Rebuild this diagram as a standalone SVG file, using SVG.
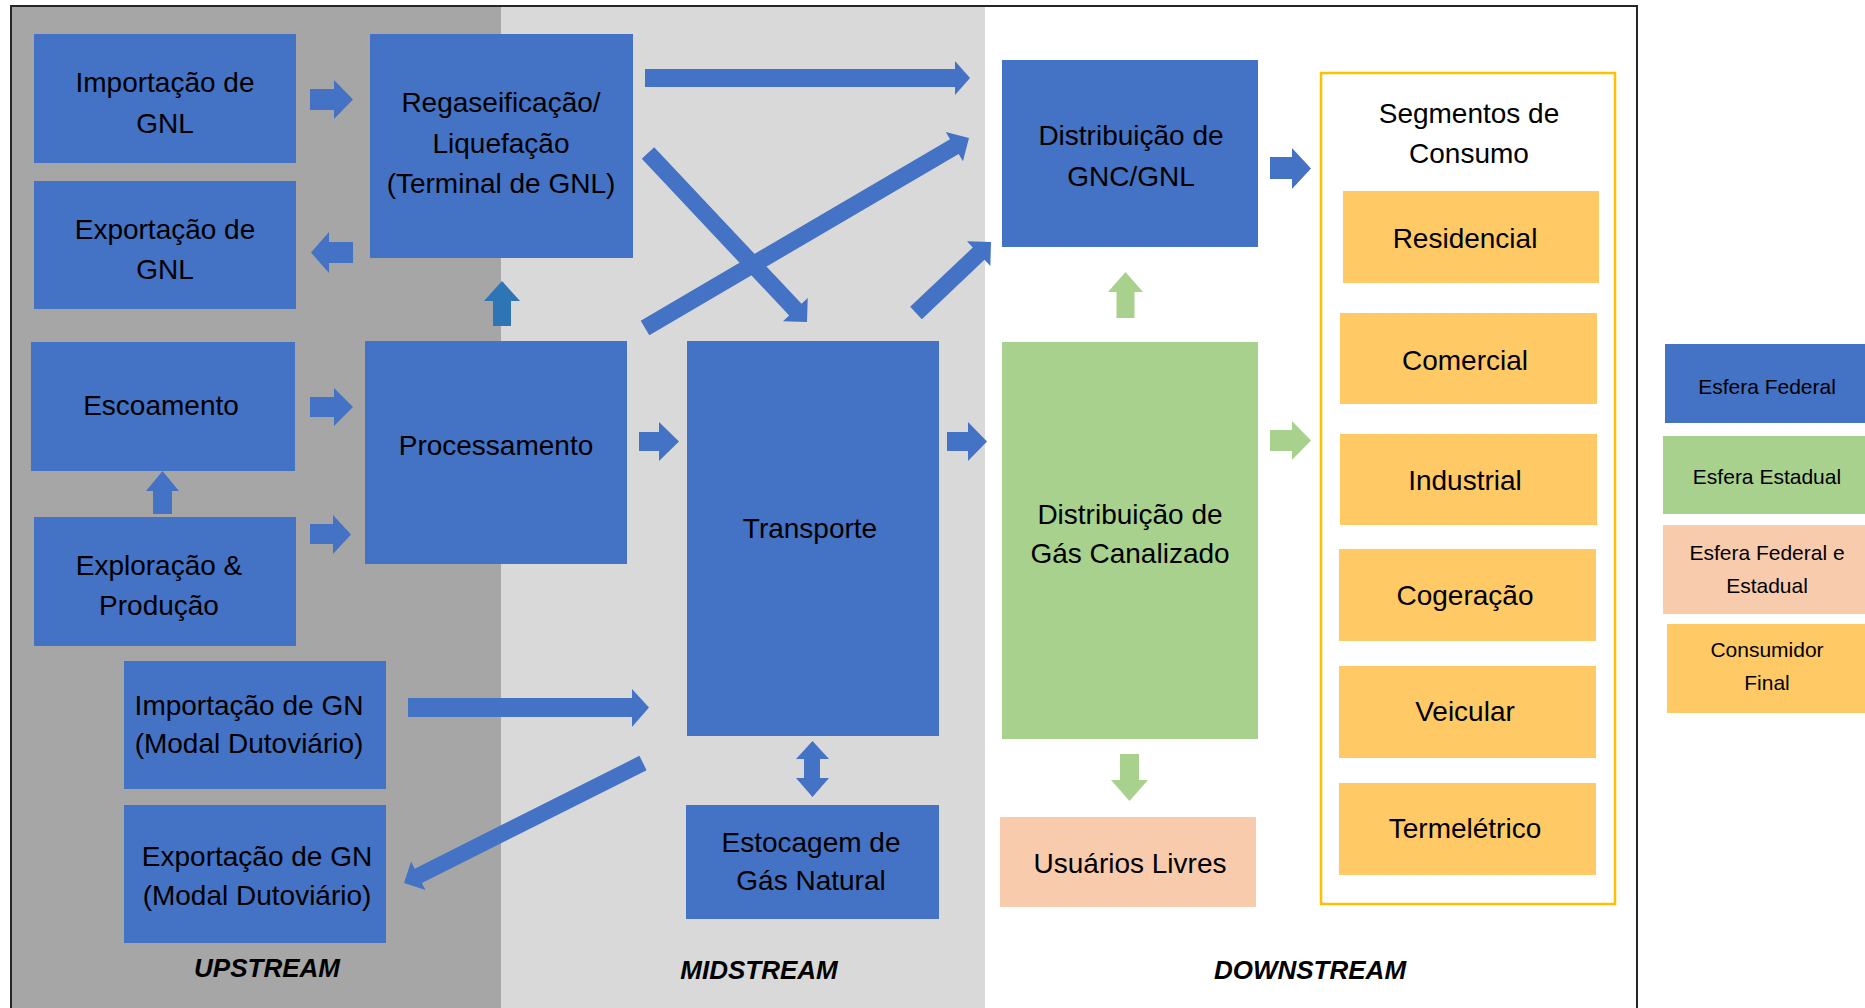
<svg xmlns="http://www.w3.org/2000/svg" width="1865" height="1008" viewBox="0 0 1865 1008">
<style>
.b{fill:#4472C4}
.g{fill:#A9D18E}
.p{fill:#F8CBAD}
.o{fill:#FFCA66}
.t{font-family:"Liberation Sans",Arial,sans-serif;font-size:28px;fill:#000;text-anchor:middle}
.l{font-size:21px}
.s{font-weight:bold;font-style:italic;font-size:26px}
.au{fill:#2E75B6}
</style>
<g id="background">
<rect x="11" y="6" width="490" height="1002" fill="#A6A6A6"/>
<rect x="501" y="6" width="484" height="1002" fill="#D9D9D9"/>
<rect x="985" y="6" width="652" height="1002" fill="#FFFFFF"/>
<path d="M11,1008 V6 H1637 V1008" fill="none" stroke="#262626" stroke-width="2"/>
</g>
<g id="n-importacao-gnl"><rect class="b" x="34" y="34" width="262" height="129"/><text class="t" x="165" y="92">Importação de</text><text class="t" x="165" y="133">GNL</text></g>
<g id="n-exportacao-gnl"><rect class="b" x="34" y="181" width="262" height="128"/><text class="t" x="165" y="239">Exportação de</text><text class="t" x="165" y="279">GNL</text></g>
<g id="n-regaseificacao"><rect class="b" x="370" y="34" width="263" height="224"/><text class="t" x="501" y="112">Regaseificação/</text><text class="t" x="501" y="153">Liquefação</text><text class="t" x="501" y="193">(Terminal de GNL)</text></g>
<g id="n-escoamento"><rect class="b" x="31" y="342" width="264" height="129"/><text class="t" x="161" y="415">Escoamento</text></g>
<g id="n-processamento"><rect class="b" x="365" y="341" width="262" height="223"/><text class="t" x="496" y="455">Processamento</text></g>
<g id="n-exploracao"><rect class="b" x="34" y="517" width="262" height="129"/><text class="t" x="159" y="575">Exploração &amp;</text><text class="t" x="159" y="615">Produção</text></g>
<g id="n-importacao-gn"><rect class="b" x="124" y="661" width="262" height="128"/><text class="t" x="249" y="715">Importação de GN</text><text class="t" x="249" y="753">(Modal Dutoviário)</text></g>
<g id="n-exportacao-gn"><rect class="b" x="124" y="805" width="262" height="138"/><text class="t" x="257" y="866">Exportação de GN</text><text class="t" x="257" y="905">(Modal Dutoviário)</text></g>
<g id="n-transporte"><rect class="b" x="687" y="341" width="252" height="395"/><text class="t" x="810" y="538">Transporte</text></g>
<g id="n-estocagem"><rect class="b" x="686" y="805" width="253" height="114"/><text class="t" x="811" y="852">Estocagem de</text><text class="t" x="811" y="890">Gás Natural</text></g>
<g id="n-distribuicao-gnc"><rect class="b" x="1002" y="60" width="256" height="187"/><text class="t" x="1131" y="145">Distribuição de</text><text class="t" x="1131" y="186">GNC/GNL</text></g>
<g id="n-distribuicao-gas"><rect class="g" x="1002" y="342" width="256" height="397"/><text class="t" x="1130" y="524">Distribuição de</text><text class="t" x="1130" y="563">Gás Canalizado</text></g>
<g id="n-usuarios"><rect class="p" x="1000" y="817" width="256" height="90"/><text class="t" x="1130" y="873">Usuários Livres</text></g>
<g id="n-segmentos">
<rect x="1321" y="73" width="294" height="831" fill="none" stroke="#FFC000" stroke-width="2.5"/>
<text class="t" x="1469" y="123">Segmentos de</text><text class="t" x="1469" y="163">Consumo</text>
</g>
<g id="n-residencial"><rect class="o" x="1343" y="191" width="256" height="92"/><text class="t" x="1465" y="248">Residencial</text></g>
<g id="n-comercial"><rect class="o" x="1340" y="313" width="257" height="91"/><text class="t" x="1465" y="370">Comercial</text></g>
<g id="n-industrial"><rect class="o" x="1340" y="434" width="257" height="91"/><text class="t" x="1465" y="490">Industrial</text></g>
<g id="n-cogeracao"><rect class="o" x="1339" y="549" width="257" height="92"/><text class="t" x="1465" y="605">Cogeração</text></g>
<g id="n-veicular"><rect class="o" x="1339" y="666" width="257" height="92"/><text class="t" x="1465" y="721">Veicular</text></g>
<g id="n-termeletrico"><rect class="o" x="1339" y="783" width="257" height="92"/><text class="t" x="1465" y="838">Termelétrico</text></g>
<g id="connectors">
<polygon class="b" points="310,89 334,89 334,80 353,99.5 334,119 334,110 310,110"/>
<polygon class="b" points="353,242 329,242 329,232 311,252.5 329,273 329,263 353,263"/>
<polygon class="b" points="310,397 334,397 334,388 353,407 334,426 334,417 310,417"/>
<polygon class="b" points="310,524 333,524 333,515 351,534.5 333,554 333,544 310,544"/>
<polygon class="b" points="153,514 153,491 146,491 162.5,471 179,491 172,491 172,514"/>
<polygon class="au" points="493,326 493,301 484,301 502,281 520,301 511,301 511,326"/>
<polygon class="b" points="639,432 659,432 659,422 679,441.5 659,461 659,451 639,451"/>
<polygon class="b" points="947,432 968,432 968,422 987,441.5 968,461 968,451 947,451"/>
<polygon class="b" points="645,69 955,69 955,61 970,78 955,95 955,87 645,87"/>
<polygon class="b" points="640.7,320.67 950.04,139.27 945.74,131.94 969,138 962.94,161.26 958.64,153.93 649.3,335.33"/>
<polygon class="b" points="654.19,147.17 801.54,303.79 807.73,297.97 807,322 782.97,321.27 789.16,315.45 641.81,158.83"/>
<polygon class="b" points="910.16,306.83 972.82,247.52 966.97,241.35 991,242 990.35,266.03 984.5,259.86 921.84,319.17"/>
<polygon class="b" points="408,698 632,698 632,689 649,707.5 632,727 632,717 408,717"/>
<polygon class="b" points="646.59,770.15 421.89,882.97 425.48,890.12 404,883 411.12,861.52 414.71,868.67 639.41,755.85"/>
<polygon class="b" points="812.5,741 829,759 820,759 820,778 829,778 812.5,797 796,778 804,778 804,759 796,759"/>
<polygon class="g" points="1116.5,318 1116.5,292 1108,292 1125.5,272 1143,292 1134.5,292 1134.5,318"/>
<polygon class="g" points="1120,754 1139,754 1139,780 1148,780 1129.5,801 1111,780 1120,780"/>
<polygon class="b" points="1270,157 1292,157 1292,148 1311,168.5 1292,189 1292,179 1270,179"/>
<polygon class="g" points="1270,430 1292,430 1292,421 1311,440.5 1292,460 1292,451 1270,451"/>
</g>
<g id="labels">
<text class="t s" x="267" y="977">UPSTREAM</text>
<text class="t s" x="759" y="979">MIDSTREAM</text>
<text class="t s" x="1310" y="979">DOWNSTREAM</text>
</g>
<g id="legend-federal"><rect class="b" x="1665" y="344" width="200" height="79"/><text class="t l" x="1767" y="394">Esfera Federal</text></g>
<g id="legend-estadual"><rect class="g" x="1663" y="436" width="202" height="78"/><text class="t l" x="1767" y="484">Esfera Estadual</text></g>
<g id="legend-federal-estadual"><rect class="p" x="1663" y="525" width="202" height="89"/><text class="t l" x="1767" y="560">Esfera Federal e</text><text class="t l" x="1767" y="593">Estadual</text></g>
<g id="legend-consumidor"><rect class="o" x="1667" y="624" width="198" height="89"/><text class="t l" x="1767" y="657">Consumidor</text><text class="t l" x="1767" y="690">Final</text></g>
</svg>
